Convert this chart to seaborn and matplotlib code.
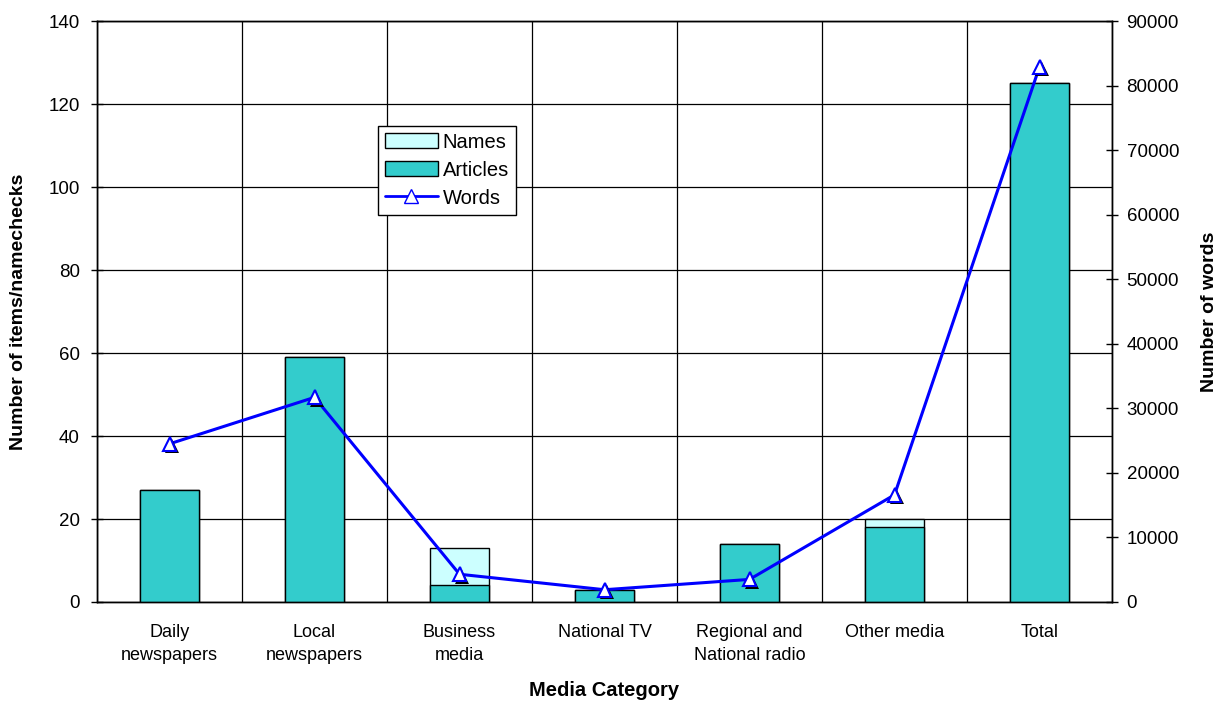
import matplotlib
matplotlib.use('Agg')
import matplotlib.pyplot as plt
import matplotlib.patheffects as pe
from matplotlib.patches import Patch
from matplotlib.lines import Line2D
from matplotlib.ticker import MultipleLocator, FixedLocator
import seaborn as sns
import pandas as pd

categories = ["Daily\nnewspapers", "Local\nnewspapers", "Business\nmedia", "National TV",
              "Regional and\nNational radio", "Other media", "Total"]
names = [27, 59, 13, 3, 14, 20, 125]
articles = [27, 59, 4, 3, 14, 18, 125]
words = [24500, 31700, 4300, 1900, 3500, 16600, 82900]

sns.set_style('white')
plt.rcParams['font.family'] = ['Liberation Sans', 'DejaVu Sans']
plt.rcParams['text.color'] = 'black'
plt.rcParams['axes.labelcolor'] = 'black'
plt.rcParams['xtick.color'] = 'black'
plt.rcParams['ytick.color'] = 'black'

df = pd.DataFrame({'cat': categories, 'names': names, 'articles': articles, 'words': words})

fig = plt.figure(figsize=(12.28, 7.01), dpi=100)
ax = fig.add_axes([97/1228, 1-602/701, 1015/1228, 581/701])
ax.set_axisbelow(True)

sns.barplot(data=df, x='cat', y='names', ax=ax, color='#CCFFFF', edgecolor='black',
            linewidth=1, width=0.41, saturation=1, zorder=2)
sns.barplot(data=df, x='cat', y='articles', ax=ax, color='#33CCCC', edgecolor='black',
            linewidth=1, width=0.41, saturation=1, zorder=3)

ax.set_xlim(-0.5, len(categories) - 0.5)
ax.set_ylim(0, 140)
ax.yaxis.set_major_locator(MultipleLocator(20))
ax.xaxis.set_minor_locator(FixedLocator([i - 0.5 for i in range(len(categories) + 1)]))
ax.grid(axis='y', which='major', color='black', linewidth=0.9)
ax.grid(axis='x', which='minor', color='black', linewidth=0.9)
ax.grid(axis='x', which='major', visible=False)
ax.tick_params(axis='x', which='major', length=0, pad=16, labelsize=13)
ax.tick_params(axis='x', which='minor', length=9, direction='inout', color='black', width=1)
ax.tick_params(axis='y', which='major', length=9, direction='inout', labelsize=13.5,
               color='black', width=1, left=True, pad=8)
for t in ax.get_xticklabels():
    t.set_linespacing(1.45)
ax.set_xlabel('Media Category', fontweight='bold', fontsize=14.5, labelpad=12)
ax.set_ylabel('Number of items/namechecks', fontweight='bold', fontsize=14, labelpad=15)

ax2 = ax.twinx()
sns.pointplot(data=df, x='cat', y='words', ax=ax2, color='blue', markers='',
              linestyles='-', errorbar=None, linewidth=2.2)
sns.pointplot(data=df, x='cat', y='words', ax=ax2, color='blue', markers='^',
              linestyles='none', errorbar=None, markersize=10,
              markerfacecolor='white', markeredgecolor='blue', markeredgewidth=1.5,
              path_effects=[pe.SimplePatchShadow(offset=(1.8, -1.8), shadow_rgbFace='black', alpha=1),
                            pe.Normal()])
ax2.set_xlim(-0.5, len(categories) - 0.5)
ax2.set_ylim(0, 90000)
ax2.yaxis.set_major_locator(MultipleLocator(10000))
ax2.tick_params(axis='y', which='major', length=9, direction='inout', labelsize=13.5,
                color='black', width=1, right=True, pad=6)
ax2.set_ylabel('Number of words', fontweight='bold', fontsize=14, labelpad=16)
ax2.set_xlabel('')
ax2.grid(False)

for a in (ax, ax2):
    for s in a.spines.values():
        s.set_color('black')
        s.set_linewidth(1)

handles = [Patch(facecolor='#CCFFFF', edgecolor='black', label='Names'),
           Patch(facecolor='#33CCCC', edgecolor='black', label='Articles'),
           Line2D([], [], color='blue', linewidth=2, marker='^', markersize=10,
                  markerfacecolor='white', markeredgecolor='blue', label='Words')]
leg = ax2.legend(handles=handles, loc='upper left', bbox_to_anchor=(0.277, 0.82),
                 fontsize=14.5, frameon=True, fancybox=False, framealpha=1,
                 edgecolor='black', borderpad=0.35, labelspacing=0.45, handlelength=2.6,
                 handleheight=0.8, handletextpad=0.25, borderaxespad=0)
leg.get_frame().set_linewidth(1)

fig.savefig('out.png', dpi=100)
